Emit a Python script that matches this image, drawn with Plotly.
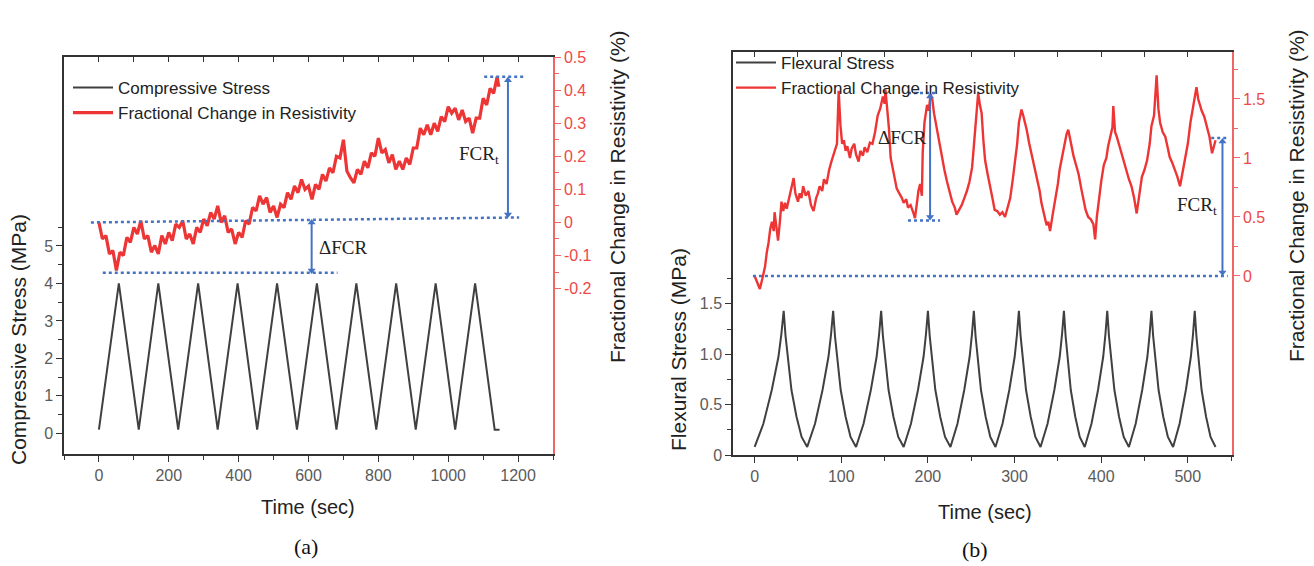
import plotly.graph_objects as go

# ---------------- Panel (a): compressive loading ----------------
a_stress_t = [0, 57, 114, 170, 227, 284, 340, 397, 453, 510, 567, 624, 680, 737,
              794, 851, 907, 964, 1020, 1077, 1133, 1147]
a_stress = [0.1, 4.0, 0.1, 4.0, 0.1, 4.0, 0.1, 4.0, 0.1, 4.0, 0.1, 4.0, 0.1, 4.0,
            0.1, 4.0, 0.1, 4.0, 0.1, 4.0, 0.1, 0.1]

a_fcr_t = [0, 10, 20, 30, 40, 50, 60, 70, 80, 90, 100, 110, 120, 130, 140, 150, 160,
           170, 180, 190, 200, 210, 220, 230, 240, 250, 260, 270, 280, 290, 300, 310,
           320, 330, 340, 350, 360, 370, 380, 390, 400, 410, 420, 430, 440, 450, 460,
           470, 480, 490, 500, 510, 520, 530, 540, 550, 560, 570, 580, 590, 600, 610,
           620, 630, 640, 650, 660, 670, 680, 690, 700, 710, 720, 730, 740, 750, 760,
           770, 780, 790, 800, 810, 820, 830, 840, 850, 860, 870, 880, 890, 900, 910,
           920, 930, 940, 950, 960, 970, 980, 990, 1000, 1010, 1020, 1030, 1040, 1050,
           1060, 1070, 1080, 1090, 1100, 1110, 1120, 1130, 1140, 1145]
a_fcr = [0.0, -0.05, -0.04, -0.095, -0.085, -0.145, -0.09, -0.10, -0.045, -0.06,
         -0.015, -0.035, 0.005, -0.05, -0.04, -0.09, -0.07, -0.095, -0.04, -0.065,
         -0.03, -0.055, -0.005, -0.015, 0.005, -0.05, -0.035, -0.065, -0.015, -0.03,
         0.01, -0.01, 0.03, 0.01, 0.05, 0.0, 0.02, -0.03, -0.02, -0.065,
         -0.03, -0.045, 0.005, -0.005, 0.045, 0.035, 0.08, 0.055, 0.075, 0.03,
         0.05, 0.015, 0.055, 0.045, 0.09, 0.07, 0.11, 0.09, 0.13, 0.10,
         0.11, 0.07, 0.115, 0.10, 0.145, 0.125, 0.165, 0.15, 0.20, 0.195,
         0.25, 0.155, 0.135, 0.12, 0.16, 0.145, 0.185, 0.165, 0.21, 0.20,
         0.255, 0.21, 0.22, 0.18, 0.205, 0.16, 0.185, 0.16, 0.195, 0.175,
         0.225, 0.225, 0.285, 0.265, 0.295, 0.265, 0.30, 0.275, 0.32, 0.305,
         0.35, 0.33, 0.345, 0.31, 0.34, 0.305, 0.315, 0.27, 0.315, 0.315,
         0.375, 0.355, 0.405, 0.39, 0.44, 0.41]

# ---------------- Panel (b): flexural loading ----------------
b_trough_t = [0, 60.7, 117, 172, 226, 278, 330, 381, 432, 483, 532]
b_peak_t = [33.5, 90.6, 146, 200, 253, 305, 357, 407, 458, 508]
b_rise_frac = [0, 0.3, 0.59, 0.82, 0.92, 1.0]
b_rise_val = [0.08, 0.31, 0.645, 0.975, 1.2, 1.43]
b_fall_frac = [0.08, 0.185, 0.33, 0.545, 0.76, 1.0]
b_fall_val = [1.18, 0.98, 0.645, 0.38, 0.18, 0.08]

b_fcr_t = [0, 3, 6, 9, 12, 14, 16, 18, 20, 22, 23, 25, 27, 29, 31, 33, 35, 37, 40, 42,
           45, 47, 50, 52, 54, 56, 59, 62, 65, 68, 71, 73, 75, 78, 80, 83, 86, 89, 92,
           95, 97, 99, 101, 103, 105, 107, 110, 112, 115, 117, 120, 122, 125, 127, 130,
           133, 136, 139, 142, 145, 148, 150, 151, 153, 155, 157, 159, 162, 164, 167,
           170, 172, 175, 177, 180, 183, 185, 187, 189, 191, 193, 194, 196, 199, 201,
           203, 205, 207, 210, 213, 216, 219, 222, 225, 228, 231, 233, 236, 239, 242,
           245, 248, 251, 253, 255, 257, 258, 260, 262, 264, 266, 269, 272, 275, 277,
           280, 283, 286, 289, 292, 295, 298, 301, 303, 305, 308, 310, 312, 314, 317,
           320, 323, 326, 329, 331, 334, 337, 339, 341, 344, 347, 350, 352, 355, 358,
           360, 362, 365, 368, 371, 374, 377, 379, 382, 385, 388, 391, 393, 395, 397,
           400, 403, 406, 408, 411, 413, 414, 416, 418, 421, 423, 426, 429, 432, 435,
           438, 441, 444, 447, 450, 453, 456, 458, 461, 464, 466, 468, 471, 474, 477,
           479, 482, 485, 488, 491, 494, 497, 500, 503, 506, 508, 510, 512, 514, 516,
           519, 522, 525, 528, 530, 532]
b_fcr = [0.0, -0.06, -0.11, -0.02, 0.08, 0.2, 0.28, 0.4, 0.46, 0.38, 0.54, 0.42, 0.3,
         0.45, 0.63, 0.55, 0.62, 0.57, 0.66, 0.72, 0.83, 0.7, 0.63, 0.7, 0.66, 0.76,
         0.68, 0.72, 0.6, 0.55, 0.66, 0.7, 0.76, 0.72, 0.82, 0.78, 0.9, 0.98, 1.05,
         1.12, 1.57, 1.28, 1.12, 1.15, 1.06, 1.1, 1.0, 1.08, 1.12, 1.03, 0.97, 1.06,
         1.02, 1.09, 1.05, 1.13, 1.12, 1.22, 1.36, 1.42, 1.52, 1.46, 1.58, 1.42, 1.25,
         1.0, 0.92, 0.8, 0.74, 0.7, 0.66, 0.62, 0.65, 0.58, 0.6, 0.54, 0.49, 0.6, 0.72,
         0.78, 0.68, 1.05, 1.3, 1.45, 1.4, 1.54, 1.5, 1.38, 1.26, 1.12, 1.0, 0.9, 0.8,
         0.72, 0.63, 0.58, 0.52, 0.56, 0.6, 0.66, 0.72, 0.8, 0.92, 1.1, 1.3, 1.45, 1.55,
         1.45, 1.38, 1.15, 0.98, 0.86, 0.76, 0.64, 0.56, 0.55, 0.52, 0.54, 0.5, 0.58,
         0.66, 0.82, 0.98, 1.12, 1.3, 1.41, 1.36, 1.3, 1.24, 1.12, 1.02, 0.9, 0.82,
         0.72, 0.62, 0.52, 0.43, 0.46, 0.38, 0.52, 0.64, 0.78, 0.9, 1.02, 1.14, 1.2,
         1.24, 1.12, 1.02, 0.94, 0.86, 0.74, 0.66, 0.56, 0.5, 0.48, 0.44, 0.31, 0.5,
         0.64, 0.8, 0.94, 1.0, 1.1, 1.2, 1.26, 1.44, 1.22, 1.18, 1.1, 1.04, 0.96, 0.9,
         0.82, 0.76, 0.66, 0.53, 0.7, 0.84, 0.9, 0.98, 1.12, 1.27, 1.36, 1.7, 1.42,
         1.3, 1.22, 1.18, 1.08, 1.01, 0.96, 0.9, 0.84, 0.76, 0.88, 0.98, 1.12, 1.3,
         1.44, 1.52, 1.6, 1.5, 1.45, 1.4, 1.35, 1.27, 1.18, 1.04, 1.1, 1.15]

# ---------- build flexural stress table from the per-cycle shape ----------
b_stress_t, b_stress = [], []
for i in range(len(b_peak_t)):
    tr, pk, nx = b_trough_t[i], b_peak_t[i], b_trough_t[i + 1]
    for f, v in zip(b_rise_frac, b_rise_val):
        b_stress_t.append(tr + f * (pk - tr)); b_stress.append(v)
    for f, v in zip(b_fall_frac, b_fall_val):
        b_stress_t.append(pk + f * (nx - pk)); b_stress.append(v)

# ---------------- styles ----------------
W, H = 1314, 566
SANS = "Liberation Sans, Arial, sans-serif"
SERIF = "Liberation Serif, Times New Roman, serif"
DARK = "#404040"
AXIS = "#333333"
TICK = "#5a5a5a"
RED = "#EE3535"
RED_AX = "#F06565"
RED_TXT = "#EE4848"
BLUE = "#4472C4"


def px_x(p):
    return p / W


def px_y(p):
    return (H - p) / H


ax_dom = [px_x(64), px_x(553)]
ay_dom = [px_y(454), px_y(57)]
bx_dom = [px_x(733), px_x(1232)]
by_dom = [px_y(455), px_y(52)]

fig = go.Figure()
fig.add_trace(go.Scatter(x=a_stress_t, y=a_stress, mode="lines", name="Compressive Stress",
                         line=dict(color=DARK, width=2), xaxis="x", yaxis="y", legend="legend"))
fig.add_trace(go.Scatter(x=a_fcr_t, y=a_fcr, mode="lines", name="Fractional Change in Resistivity",
                         line=dict(color=RED, width=3.2), xaxis="x", yaxis="y2", legend="legend"))
fig.add_trace(go.Scatter(x=b_stress_t, y=b_stress, mode="lines", name="Flexural Stress",
                         line=dict(color=DARK, width=2), xaxis="x2", yaxis="y3", legend="legend2"))
fig.add_trace(go.Scatter(x=b_fcr_t, y=b_fcr, mode="lines", name="Fractional Change in Resistivity",
                         line=dict(color=RED, width=2.4), xaxis="x2", yaxis="y4", legend="legend2"))
# invisible helpers so the top (mirror) axes are drawn
fig.add_trace(go.Scatter(x=a_stress_t, y=a_stress, mode="lines", line=dict(width=0), opacity=0,
                         showlegend=False, hoverinfo="skip", xaxis="x3", yaxis="y"))
fig.add_trace(go.Scatter(x=b_stress_t, y=b_stress, mode="lines", line=dict(width=0), opacity=0,
                         showlegend=False, hoverinfo="skip", xaxis="x4", yaxis="y3"))

tickfont = dict(family=SANS, size=16, color=TICK)
redfont = dict(family=SANS, size=16, color=RED_TXT)

a_xr = [-100, 1300]
b_xr = [-25, 551]

common = dict(showgrid=False, zeroline=False, showline=True, linewidth=1.5, automargin=False)

fig.update_layout(
    template="none",
    width=W, height=H, margin=dict(l=0, r=0, t=0, b=0, pad=0, autoexpand=False),
    paper_bgcolor="white", plot_bgcolor="white",
    font=dict(family=SANS),
    showlegend=True,
    xaxis=dict(domain=ax_dom, range=a_xr, anchor="y", linecolor=AXIS, ticks="outside", ticklen=6,
               tickcolor=AXIS, tick0=0, dtick=200, tickfont=tickfont,
               minor=dict(dtick=100, tick0=0, ticklen=4, ticks="outside", tickcolor=AXIS), **common),
    xaxis3=dict(overlaying="x", side="top", anchor="y", range=a_xr, linecolor=AXIS,
                ticks="inside", ticklen=5, tickcolor=AXIS, tick0=0, dtick=100,
                showticklabels=False, **common),
    yaxis=dict(domain=ay_dom, range=[-0.55, 10.04], anchor="x", linecolor=AXIS, ticks="outside",
               ticklen=6, tickcolor=AXIS, tickvals=[0, 1, 2, 3, 4, 5], tickfont=tickfont,
               minor=dict(tickvals=[0.5, 1.5, 2.5, 3.5, 4.5, 5.5], ticklen=4, ticks="outside",
                          tickcolor=AXIS), **common),
    yaxis2=dict(overlaying="y", side="right", anchor="x", range=[-0.7, 0.5], linecolor=RED_AX,
                ticks="outside", ticklen=6, tickcolor=RED_AX,
                tickvals=[-0.2, -0.1, 0, 0.1, 0.2, 0.3, 0.4, 0.5],
                ticktext=["-0.2", "-0.1", "0", "0.1", "0.2", "0.3", "0.4", "0.5"],
                tickfont=redfont,
                minor=dict(tickvals=[-0.15, -0.05, 0.05, 0.15, 0.25, 0.35, 0.45], ticklen=4,
                           ticks="outside", tickcolor=RED_AX), **common),
    xaxis2=dict(domain=bx_dom, range=b_xr, anchor="y3", linecolor=AXIS, ticks="outside",
                ticklen=6, tickcolor=AXIS, tick0=0, dtick=100, tickfont=tickfont,
                minor=dict(dtick=50, tick0=0, ticklen=4, ticks="outside", tickcolor=AXIS),
                **common),
    xaxis4=dict(overlaying="x2", side="top", anchor="y3", range=b_xr, linecolor=AXIS,
                ticks="inside", ticklen=5, tickcolor=AXIS, tick0=0, dtick=50,
                showticklabels=False, **common),
    yaxis3=dict(domain=by_dom, range=[0, 4.0], anchor="x2", linecolor=AXIS, ticks="outside",
                ticklen=6, tickcolor=AXIS, tickvals=[0, 0.5, 1.0, 1.5],
                ticktext=["0", "0.5", "1.0", "1.5"], tickfont=tickfont,
                minor=dict(tickvals=[0.25, 0.75, 1.25, 1.75], ticklen=4, ticks="outside",
                           tickcolor=AXIS), **common),
    yaxis4=dict(overlaying="y3", side="right", anchor="x2", range=[-1.517, 1.898],
                linecolor=RED_AX, ticks="outside", ticklen=6, tickcolor=RED_AX,
                tickvals=[0, 0.5, 1, 1.5], ticktext=["0", "0.5", "1", "1.5"], tickfont=redfont,
                minor=dict(tickvals=[0.25, 0.75, 1.25, 1.75], ticklen=4, ticks="outside",
                           tickcolor=RED_AX), **common),
    legend=dict(x=px_x(68), y=px_y(70), xanchor="left", yanchor="top",
                bgcolor="rgba(0,0,0,0)", font=dict(family=SANS, size=17, color="#222"),
                itemwidth=40, tracegroupgap=0),
    legend2=dict(x=px_x(731), y=px_y(45), xanchor="left", yanchor="top",
                 bgcolor="rgba(0,0,0,0)", font=dict(family=SANS, size=17, color="#222"),
                 itemwidth=40, tracegroupgap=0),
)

# ---------- blue dotted guide lines and double arrows ----------
def dotted(xref, yref, x0, y0, x1, y1):
    fig.add_shape(type="line", xref=xref, yref=yref, x0=x0, y0=y0, x1=x1, y1=y1,
                  line=dict(color=BLUE, width=2.5, dash="dot"))


def arrow(xa, ya, x, y0, y1):
    fig.add_trace(go.Scatter(x=[x, x], y=[y0, y1], mode="lines+markers", xaxis=xa, yaxis=ya,
                             line=dict(color=BLUE, width=2),
                             marker=dict(symbol=["triangle-down", "triangle-up"], size=7,
                                         color=BLUE),
                             showlegend=False, hoverinfo="skip"))


# panel (a)
dotted("x", "y2", -23, 0.0, 1203, 0.015)
dotted("x", "y2", 11, -0.152, 683, -0.152)
dotted("x", "y2", 1103, 0.44, 1217, 0.44)
arrow("x", "y2", 609, -0.145, 0.0)
arrow("x", "y2", 1171, 0.024, 0.43)
# panel (b)
dotted("x2", "y4", -2, 0.0, 546, 0.0)
dotted("x2", "y4", 177, 1.55, 210, 1.55)
dotted("x2", "y4", 177, 0.47, 214, 0.47)
dotted("x2", "y4", 527, 1.17, 547, 1.17)
arrow("x2", "y4", 202.5, 0.5, 1.52)
arrow("x2", "y4", 540, 0.03, 1.14)

afont = dict(family=SERIF, size=19, color="#222")
fig.add_annotation(xref="x", yref="y2", x=624, y=-0.075, text="ΔFCR", showarrow=False,
                   xanchor="left", font=afont)
fig.add_annotation(xref="x", yref="y2", x=1089, y=0.205, text="FCR<sub>t</sub>",
                   showarrow=False, font=afont)
fig.add_annotation(xref="x2", yref="y4", x=170, y=1.17, text="ΔFCR", showarrow=False,
                   font=afont)
fig.add_annotation(xref="x2", yref="y4", x=511, y=0.59, text="FCR<sub>t</sub>",
                   showarrow=False, font=afont)

# ---------- axis titles and panel labels ----------
tfont = dict(family=SANS, size=20, color="#222")
rfont = dict(family=SANS, size=21, color="#222")
def label(px, py, text, angle=0, font=tfont):
    fig.add_annotation(xref="paper", yref="paper", x=px_x(px), y=px_y(py), text=text,
                       textangle=angle, showarrow=False, xanchor="center", yanchor="middle",
                       font=font)

label(18, 340, "Compressive Stress (MPa)", -90, rfont)
label(308, 507, "Time (sec)")
label(617, 197, "Fractional Change in Resistivity (%)", -90, rfont)
label(678, 350, "Flexural Stress (MPa)", -90, rfont)
label(985, 512, "Time (sec)")
label(1296, 196, "Fractional Change in Resistivity (%)", -90, rfont)
pfont = dict(family=SERIF, size=22, color="#111")
label(306, 546, "(a)", font=pfont)
label(975, 549, "(b)", font=pfont)

fig.write_html("out.html", config={"displayModeBar": False},
               post_script="document.body.style.margin='0px';")
